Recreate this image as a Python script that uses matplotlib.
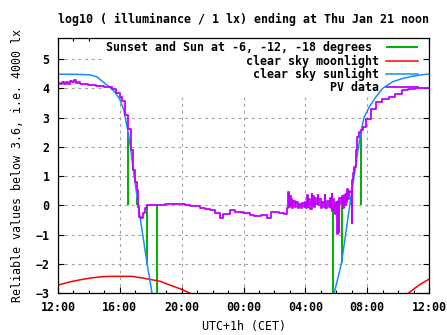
import matplotlib
matplotlib.use("Agg")
import matplotlib.pyplot as plt
import numpy as np
from matplotlib.ticker import MultipleLocator

plt.rcParams["font.family"] = "DejaVu Sans Mono"
plt.rcParams["font.weight"] = "bold"
plt.rcParams["font.size"] = 8.4

# hours since 12:00 (CET)
tick_hours = [0, 4, 8, 12, 16, 20, 24]
tick_labels = ["12:00", "16:00", "20:00", "00:00", "04:00", "08:00", "12:00"]

# clear sky sunlight, evening and morning branches
sun_eve_h = [0.0, 1.10, 2.06, 2.52, 2.90, 3.35, 3.68, 4.00, 4.26, 4.535, 4.71, 4.90, 5.116, 5.42, 5.76, 6.08, 6.30]
sun_eve_v = [4.48, 4.48, 4.46, 4.39, 4.22, 4.04, 3.87, 3.62, 3.25, 2.50, 1.90, 1.10, 0.28, -0.80, -1.98, -3.00, -3.60]
sun_morn_h = [17.70, 17.87, 18.34, 18.95, 19.59, 19.80, 20.13, 20.56, 20.99, 21.63, 22.26, 22.90, 23.79, 24.0]
sun_morn_v = [-3.50, -3.00, -1.98, 0.28, 2.50, 3.00, 3.36, 3.70, 3.99, 4.22, 4.33, 4.41, 4.48, 4.48]

# clear sky moonlight
moon_eve_h = [0.0, 0.77, 1.42, 2.06, 2.90, 3.50, 4.77, 5.50, 6.60, 7.10, 7.87, 8.52, 8.70]
moon_eve_v = [-2.73, -2.62, -2.55, -2.49, -2.44, -2.43, -2.43, -2.49, -2.60, -2.70, -2.85, -3.00, -3.05]
moon_morn_h = [22.55, 22.67, 23.35, 23.79, 24.0]
moon_morn_v = [-3.05, -3.00, -2.73, -2.59, -2.53]

# sunset / sunrise and sun at -6, -12, -18 degrees
event_h = [4.535, 5.116, 5.76, 6.406, 17.76, 18.34, 18.95, 19.59]
event_v = [2.50, 0.28, -1.98, -4.0, -4.0, -1.98, 0.28, 2.50]

# PV data
pv_h = [0.0, 0.13, 0.26, 0.39, 0.52, 0.65, 0.77, 0.90, 1.03, 1.16, 1.29, 1.42, 1.68, 1.94,
        2.19, 2.45, 2.71, 2.97, 3.23, 3.48, 3.74, 4.00, 4.13, 4.32, 4.52, 4.71, 4.84, 4.97,
        5.08, 5.16, 5.23, 5.35, 5.48, 5.61, 5.74, 6.26, 6.90, 7.55, 8.19, 8.52, 9.16, 9.48,
        9.81, 10.13, 10.45, 10.65, 11.10, 11.42, 11.94, 12.39, 12.71, 13.16, 13.55, 13.81,
        14.32, 14.65, 14.84,
        14.90, 14.95, 15.00, 15.05, 15.10, 15.15, 15.20, 15.30, 15.40, 15.50, 15.60, 15.70,
        15.80, 15.90, 16.00, 16.05, 16.10, 16.15, 16.20, 16.30, 16.40, 16.45, 16.50, 16.55,
        16.60, 16.70, 16.80, 16.85, 16.90, 17.00, 17.10, 17.20, 17.25, 17.30, 17.40, 17.50,
        17.60, 17.65, 17.70, 17.75, 17.80, 17.85, 17.90, 17.95, 18.00, 18.05, 18.10, 18.15,
        18.20, 18.30, 18.40, 18.45, 18.50, 18.55, 18.60, 18.65, 18.70, 18.75, 18.80, 18.84,
        18.90, 18.99, 19.05, 19.10, 19.16, 19.27, 19.37, 19.48, 19.59, 19.70, 19.92, 20.24,
        20.56, 20.97, 21.40, 21.82, 22.23, 22.66, 23.09, 23.74, 24.0]
pv_v = [4.18, 4.15, 4.20, 4.14, 4.22, 4.16, 4.25, 4.20, 4.27, 4.18, 4.22, 4.13, 4.15, 4.10,
        4.12, 4.07, 4.09, 4.03, 4.05, 3.97, 3.85, 3.70, 3.55, 3.10, 2.62, 1.88, 1.20, 0.80,
        0.51, -0.06, -0.40, -0.42, -0.25, -0.08, 0.00, 0.02, 0.04, 0.03, 0.01, -0.03, -0.11, -0.12,
        -0.15, -0.28, -0.43, -0.30, -0.17, -0.22, -0.25, -0.34, -0.38, -0.32, -0.42, -0.23,
        -0.25, -0.31, -0.10,
        0.45, -0.05, 0.30, 0.00, 0.20, -0.10, 0.15, -0.05, 0.10, -0.08, 0.05, -0.10,
        0.08, -0.05, 0.10, -0.10, 0.35, -0.05, 0.20, -0.12, 0.40, 0.00, 0.30, -0.05,
        0.25, 0.05, 0.35, 0.00, 0.20, -0.10, 0.10, -0.05, 0.35, -0.10, 0.15, -0.05,
        0.25, -0.10, 0.40, -0.20, 0.20, -0.15, 0.00, -0.30, 0.10, -0.97, 0.15, -0.90,
        0.25, 0.05, 0.30, -0.10, 0.35, 0.00, 0.40, 0.10, 0.55, 0.20, 0.30, 0.50,
        0.45, -0.62, 0.85, 1.10, 1.31, 1.88, 2.33, 2.50, 2.56, 2.68, 2.96, 3.30,
        3.53, 3.65, 3.70, 3.82, 3.93, 3.99, 4.00, 4.01, 4.02]

green = "#00b000"
red = "#ff0000"
blue = "#1a8cff"
purple = "#c000ff"

fig = plt.figure(figsize=(4.47, 3.35), dpi=100)
ax = fig.add_axes([58 / 447, 1 - 293 / 335, 371 / 447, 255 / 335])

ax.vlines(event_h, 0, event_v, colors=green, lw=1.4, label="Sunset and Sun at -6, -12, -18 degrees ")
ax.plot(moon_eve_h, moon_eve_v, color=red, lw=1.1, label="clear sky moonlight")
ax.plot(moon_morn_h, moon_morn_v, color=red, lw=1.1)
ax.plot(sun_eve_h, sun_eve_v, color=blue, lw=1.1, label="clear sky sunlight")
ax.plot(sun_morn_h, sun_morn_v, color=blue, lw=1.1)
ax.plot(pv_h, pv_v, color=purple, lw=1.3, drawstyle="steps-post", label="PV data")

ax.set_xlim(0, 24)
ax.set_ylim(-3, 5.72)
ax.set_xticks(tick_hours)
ax.set_xticklabels(tick_labels)
ax.xaxis.set_minor_locator(MultipleLocator(1))
ax.set_yticks(range(-3, 6))
ax.tick_params(which="both", direction="in", top=True, right=True, width=0.8)
ax.tick_params(which="major", length=4.5, pad=6)
ax.tick_params(which="minor", length=2.5)
for s in ax.spines.values():
    s.set_linewidth(0.9)

ax.set_axisbelow(True)
ax.grid(True, which="major", color="#a0a0a0", lw=0.8, linestyle=(0, (2.5, 3.5)))

ax.set_title("log10 ( illuminance / 1 lx) ending at Thu Jan 21 noon", pad=11, fontsize=8.4, fontweight="bold")
ax.set_xlabel("UTC+1h (CET)")
ax.set_ylabel("Reliable values below 3.6, i.e. 4000 lx")
ax.yaxis.set_label_coords(-0.0914, 0.5)
ax.xaxis.set_label_coords(0.5, -0.104)

leg = ax.legend(loc="upper right", bbox_to_anchor=(0.981, 1.0), borderaxespad=0, markerfirst=False,
                frameon=True, fancybox=False, framealpha=1, facecolor="white", edgecolor="none",
                borderpad=0.3, labelspacing=0.0, handlelength=2.75, handletextpad=0.6)
leg.set_zorder(1.5)

plt.savefig("out.png", dpi=100)
